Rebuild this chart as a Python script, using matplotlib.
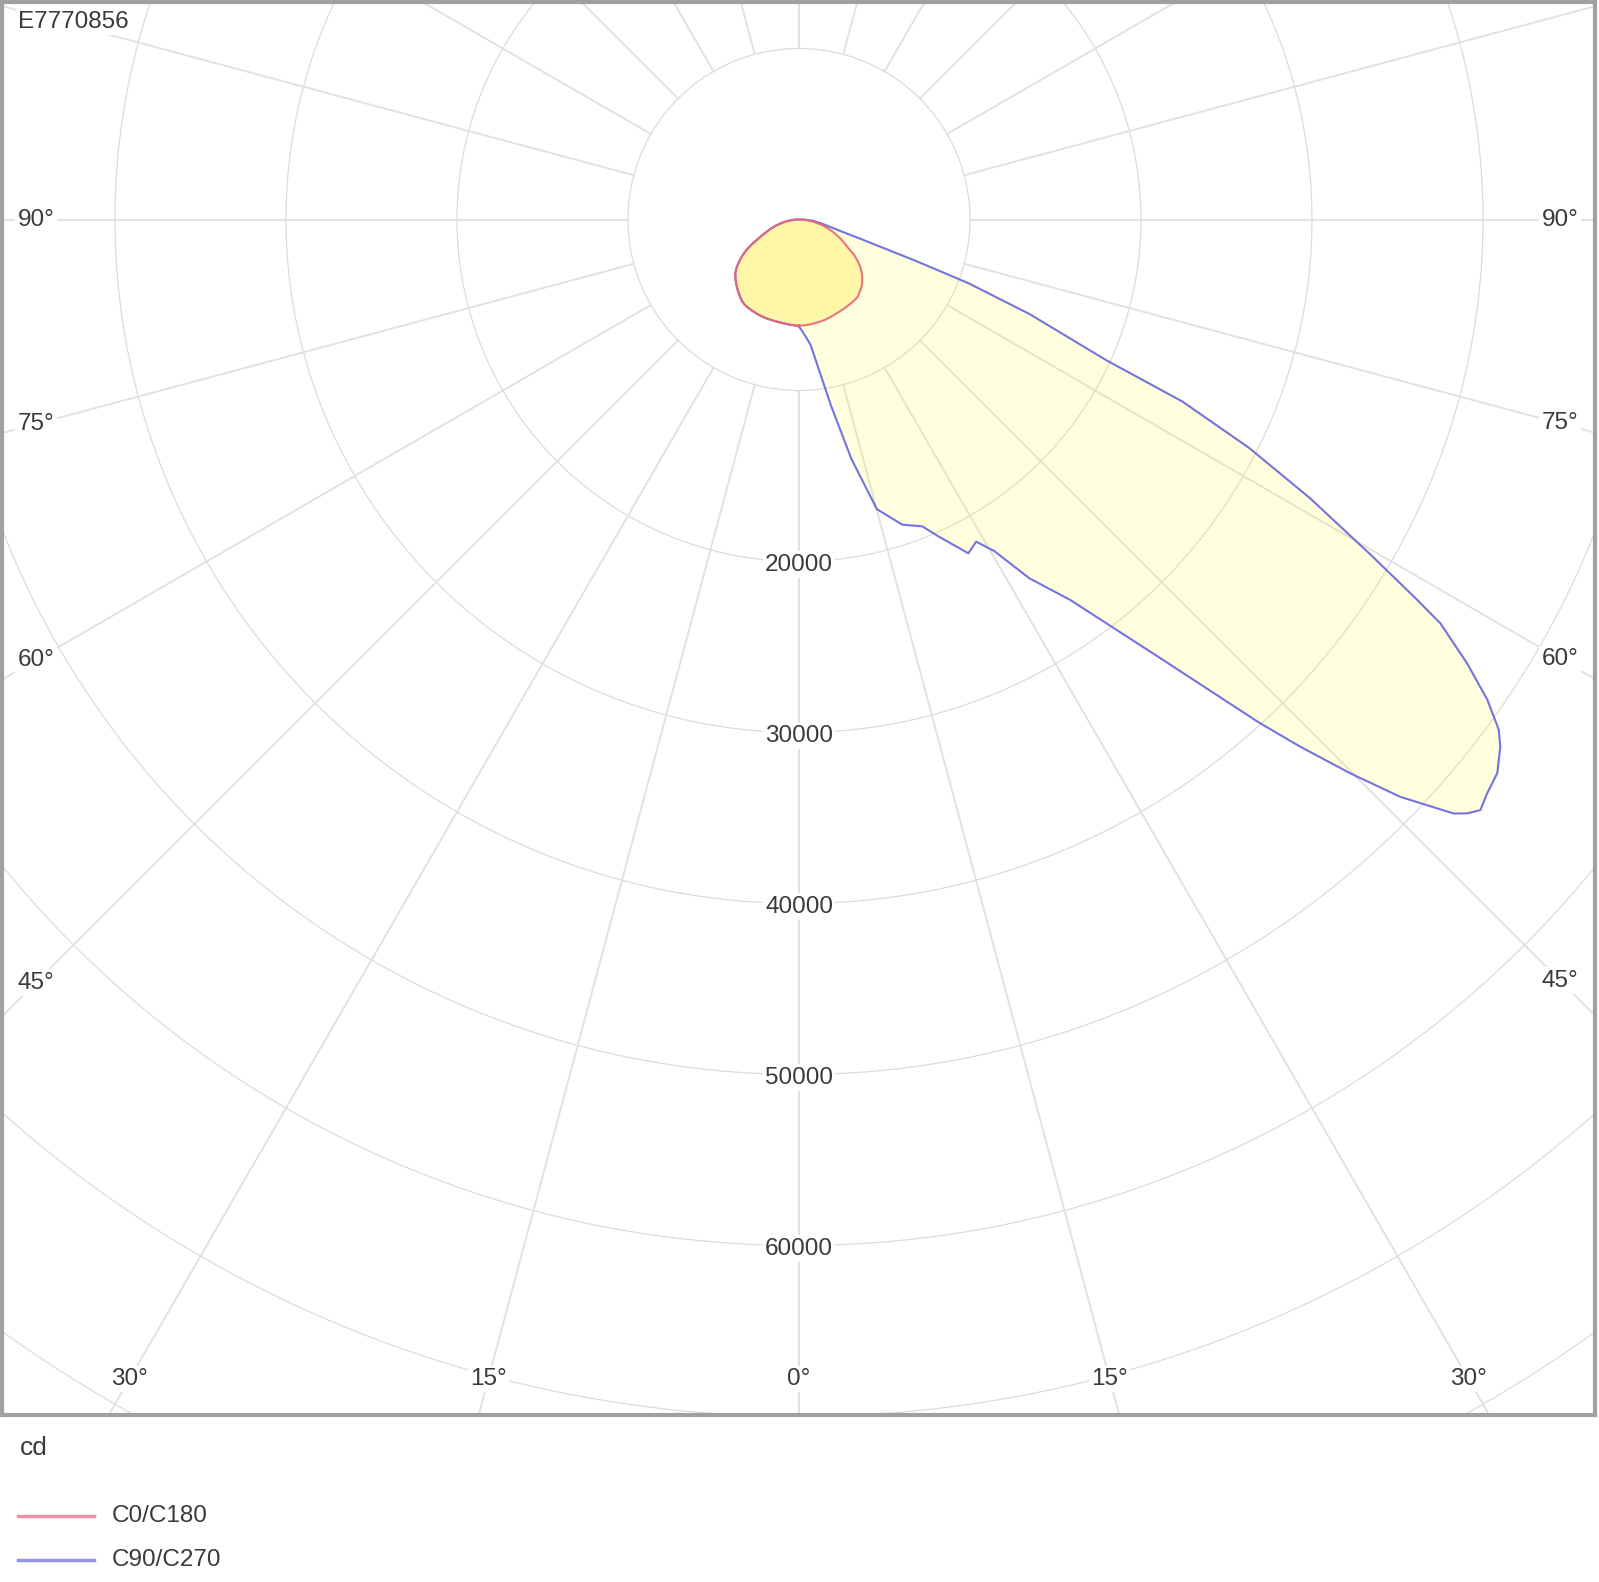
import numpy as np
import matplotlib
matplotlib.use("Agg")
import matplotlib.pyplot as plt
from matplotlib.lines import Line2D

plt.rcParams['font.family'] = ['Liberation Sans', 'DejaVu Sans']

W, H = 1599, 1582

# gamma angles (deg from nadir) and intensities in cd
gamma = [0, 2.5, 5, 7.5, 10, 12.5, 15, 17.5, 20, 22.5, 25, 27.5, 30, 32.5, 35,
         37.5, 40, 42.5, 45, 47.5, 50, 52.5, 55, 57.5, 60, 62.5, 65, 67.5, 70,
         72.5, 75, 77.5, 80, 82.5, 85, 87.5, 90]

c0 = [6200, 6200, 6180, 6150, 6120, 6090, 6050, 6000, 5950, 5900, 5860, 5830,
      5790, 5760, 5720, 5670, 5520, 5400, 5230, 5020, 4780, 4500, 4170, 3800,
      3320, 3000, 2700, 2400, 2100, 1820, 1530, 1240, 960, 700, 450, 250, 100]
c180 = [6200, 6190, 6170, 6140, 6120, 6110, 6100, 6090, 6080, 6060, 6030, 6000,
        5960, 5920, 5820, 5680, 5530, 5380, 5220, 5050, 4870, 4600, 4280, 3930,
        3540, 3080, 2600, 2250, 1950, 1680, 1420, 1150, 900, 680, 450, 250, 100]
c270 = [6250, 6200, 6180, 6150, 6130, 6110, 6100, 6090, 6070, 6050, 6020, 5990,
        5950, 5910, 5810, 5670, 5520, 5370, 5210, 5040, 4860, 4590, 4270, 3920,
        3530, 3070, 2600, 2250, 1950, 1680, 1420, 1150, 900, 680, 450, 250, 100]

# C90 half-plane read at the points where the outline bends
gamma_c90 = [0, 2.5, 5.25, 9.77, 12.35, 15.05, 18.7, 21.9, 23.7, 26.9, 28.8, 30.5,
             32.7, 35.5, 39.36, 42.44, 43.56, 44.87, 46.17, 47.78, 48.36, 49.08,
             50.17, 51.6, 53.06, 53.9, 55.1, 56.4, 57.8, 58.4, 59.6, 61.4, 63.1,
             64.6, 65.4, 67.7, 69.4, 70.5, 72.5, 75, 77.5, 80, 85, 90]
c90 = [6250, 6700, 7350, 11060, 14340, 17540, 18840, 19340, 20220, 21890, 21500,
       22500, 24930, 27340, 33020, 39860, 42550, 45700, 48760, 51690, 52270,
       52730, 52400, 52110, 51310, 50650, 49080, 46910, 44330, 42440, 38790,
       34020, 29500, 24830, 19750, 14570, 10590, 7200, 3800, 2300, 1700, 1350,
       800, 250]

rings = [10000, 20000, 30000, 40000, 50000, 60000, 70000, 80000, 90000]
ring_labels = [20000, 30000, 40000, 50000, 60000]
rays = [0, 15, 30, 45, 60, 75, 90, 105, 120, 135, 150, 165, 180]
side_angles = [45, 60, 75, 90]
bottom_angles = [0, 15, 30]

series = [
    ("C0/C180", (gamma, c0), (gamma, c180), "#ea6478", "#ffe84a", 0.36),
    ("C90/C270", (gamma_c90, c90), (gamma, c270), "#6464e0", "#ffff00", 0.13),
]

# pixel geometry of the framed diagram
cx, cy = 799, 219.5          # lamp centre in pixels
px = 10000 / 171.0           # cd per pixel
box_l, box_r, box_t, box_b = 2, 1595, 2, 1415

fig = plt.figure(figsize=(W / 100, H / 100), dpi=100)
ax = fig.add_axes([box_l / W, 1 - box_b / H, (box_r - box_l) / W, (box_b - box_t) / H])
x0, x1 = -(cx - box_l) * px, (box_r - cx) * px
y0, y1 = -(box_b - cy) * px, (cy - box_t) * px
ax.set_xlim(x0, x1)
ax.set_ylim(y0, y1)
ax.set_xticks([])
ax.set_yticks([])
for s in ax.spines.values():
    s.set_color("#a0a0a0")
    s.set_linewidth(3)

# grid: rings and rays
t = np.linspace(0, 2 * np.pi, 721)
for r in rings:
    ax.plot(r * np.cos(t), r * np.sin(t), color="#dcdcdc", lw=0.9, zorder=1)
for g in rays:
    a = np.radians(g)
    for side in (1, -1):
        ax.plot([side * rings[0] * np.sin(a), side * 120000 * np.sin(a)],
                [-rings[0] * np.cos(a), -120000 * np.cos(a)],
                color="#e0e0e0", lw=1.3, zorder=1)


def outline(right, left):
    gr, vr = np.radians(right[0]), np.asarray(right[1], float)
    gl, vl = np.radians(left[0]), np.asarray(left[1], float)
    x = np.concatenate([vr * np.sin(gr), [0], -(vl * np.sin(gl))[::-1]])
    y = np.concatenate([-vr * np.cos(gr), [0], -(vl * np.cos(gl))[::-1]])
    return x, y


for name, right, left, lc, fc, fa in reversed(series):
    x, y = outline(right, left)
    ax.fill(x, y, color=fc, alpha=fa, lw=0, zorder=2)
for name, right, left, lc, fc, fa in reversed(series):
    x, y = outline(right, left)
    ax.plot(x, y, color=lc, lw=1.5, alpha=0.9, zorder=3, solid_joinstyle="round")

txt = dict(fontsize=17.5, color="#3a3a3a", zorder=5,
           bbox=dict(facecolor="white", edgecolor="none", pad=1.5))

for v in ring_labels:
    ax.text(0, -v - 3 * px, f"{v}", ha="center", va="center", **txt)

xl = x0 + 34 * px
xr = x1 - 35 * px
for g in side_angles:
    a = np.radians(g)
    ax.text(xl, xl * np.cos(a) / np.sin(a), f"{g}°", ha="center", va="center", **txt)
    ax.text(xr, -xr * np.cos(a) / np.sin(a), f"{g}°", ha="center", va="center", **txt)

yb = y0 + 36 * px
for g in bottom_angles:
    a = np.radians(g)
    for side in ((1, -1) if g else (1,)):
        ax.text(side * -yb * np.tan(a), yb, f"{g}°", ha="center", va="center", **txt)

fig.text(18 / W, 1 - 22 / H, "E7770856", ha="left", va="center", **txt)

# unit and legend below the frame
fig.text(20 / W, 1 - 1448 / H, "cd", ha="left", va="center", fontsize=19, color="#3a3a3a")
for i, (name, right, left, lc, fc, fa) in enumerate(series):
    yy = 1 - (1516 + 44 * i) / H
    fig.add_artist(Line2D([18 / W, 94 / W], [yy, yy], color=lc, lw=2.5, alpha=0.7))
    fig.text(112 / W, yy, name, ha="left", va="center", fontsize=17.5, color="#3a3a3a")

fig.savefig("out.png", dpi=100, facecolor="white")
